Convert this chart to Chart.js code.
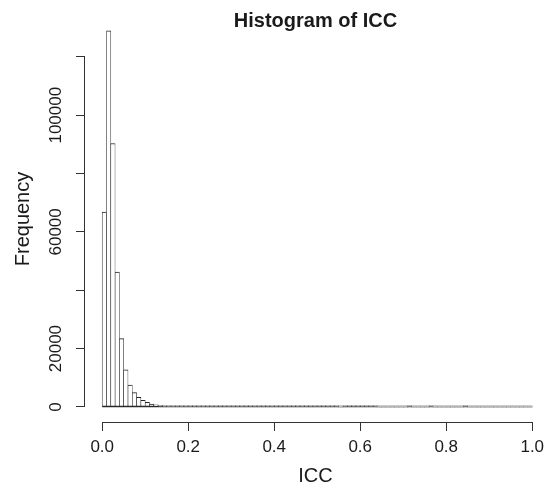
<!DOCTYPE html>
<html>
<head>
<meta charset="utf-8">
<script src="https://cdn.jsdelivr.net/npm/chart.js@4.4.1/dist/chart.umd.min.js"></script>
<style>
  html, body { margin: 0; padding: 0; background: #fff; }
</style>
</head>
<body>
<canvas id="grafica" width="546" height="483"></canvas>
<script>
// histograma de ICC, clases de ancho 0.01 entre 0 y 1
const anchoClase = 0.01;
const frecuencias = [
  66800, 128900, 90300, 46200, 23400, 12700, 7500, 4900, 3300, 2300, 1600, 1000,
  700, 520, 390, 300, 240, 200, 170, 145, 125, 110,
  98, 88, 80, 73, 67, 62, 57, 53, 49, 46, 43, 40, 38, 36, 34, 32, 30, 28,
  27, 25, 24, 23, 21, 20, 19, 18, 17, 16, 15, 14, 14, 13, 12,
  0,
  11, 10, 9, 9, 8, 7, 7, 6,
  0, 0, 0, 0, 0, 0, 0,
  3,
  0, 0, 0, 0,
  2,
  0, 0, 0, 0, 0, 0, 0,
  2,
  0, 0, 0, 0, 0, 0, 0, 0, 0, 0, 0, 0, 0, 0, 0
];
const xTicks = [0, 0.2, 0.4, 0.6, 0.8, 1.0];
const xEtiquetas = ["0.0", "0.2", "0.4", "0.6", "0.8", "1.0"];
const yTicks = [0, 20000, 40000, 60000, 80000, 100000, 120000];
const yEtiquetas = ["0", "20000", "", "60000", "", "100000", ""];

const fuente = "'Liberation Sans', Arial, Helvetica, sans-serif";
const colorTexto = "#1a1a1a";

// puntos medios de cada clase
const puntos = frecuencias.map((f, i) => ({ x: (i + 0.5) * anchoClase, y: f }));

// lineas de eje estilo R (solo entre el primer y el ultimo tick)
const ejesR = {
  id: "ejesR",
  beforeDatasetsDraw(chart) {
    // borde inferior comun de las clases (y = 0)
    const { ctx, scales } = chart;
    const x = scales.x, y = scales.y;
    ctx.save();
    ctx.strokeStyle = "#333";
    ctx.lineWidth = 1.5;
    ctx.beginPath();
    const y0 = y.getPixelForValue(0) - 0.5;
    ctx.moveTo(x.getPixelForValue(0), y0);
    ctx.lineTo(x.getPixelForValue(frecuencias.length * anchoClase), y0);
    ctx.stroke();
    ctx.restore();
  },
  afterDraw(chart) {
    const { ctx, chartArea, scales } = chart;
    const x = scales.x, y = scales.y;
    ctx.save();
    ctx.strokeStyle = "#333";
    ctx.lineWidth = 1;
    ctx.beginPath();
    const yb = Math.round(chartArea.bottom) + 0.5;
    ctx.moveTo(x.getPixelForValue(xTicks[0]), yb);
    ctx.lineTo(x.getPixelForValue(xTicks[xTicks.length - 1]), yb);
    const xl = Math.round(chartArea.left) - 0.5;
    ctx.moveTo(xl, y.getPixelForValue(yTicks[0]));
    ctx.lineTo(xl, y.getPixelForValue(yTicks[yTicks.length - 1]));
    ctx.stroke();
    ctx.restore();
  }
};

const grafica = document.getElementById("grafica").getContext("2d");
const myChart = new Chart(grafica, {
  type: "bar",
  data: {
    datasets: [{
      data: puntos,
      backgroundColor: "#ffffff",
      borderColor: (c) => (c.raw && c.raw.y === 0 ? "#999" : "#222"),
      borderWidth: { top: 1, left: 0.6, right: 0.6, bottom: 1 },
      borderSkipped: false,
      minBarLength: 1,
      barPercentage: 1,
      categoryPercentage: 1
    }]
  },
  options: {
    responsive: false,
    animation: false,
    devicePixelRatio: 1,
    layout: { padding: { left: 0, right: 0, top: 0, bottom: 0 } },
    plugins: {
      legend: { display: false },
      tooltip: { enabled: false },
      title: {
        display: true,
        text: "Histogram of ICC",
        fullSize: false,
        color: colorTexto,
        font: { family: fuente, size: 20, weight: "bold", lineHeight: 1.2 },
        padding: { top: 9, bottom: -17 }
      }
    },
    scales: {
      x: {
        type: "linear",
        offset: false,
        min: -0.04,
        max: 1.032,
        afterBuildTicks: (s) => { s.ticks = xTicks.map((v) => ({ value: v })); },
        afterFit: (s) => {
          s.height = 61;
          // como en R, la etiqueta "1.0" puede tocar el borde
          s.paddingLeft = 0;
          s.paddingRight = 0;
        },
        ticks: {
          callback: (v, i) => xEtiquetas[i],
          color: colorTexto,
          font: { family: fuente, size: 17 },
          padding: 6,
          maxRotation: 0,
          autoSkip: false
        },
        grid: { offset: false, drawOnChartArea: false, drawTicks: true, tickLength: 9, color: "#333", lineWidth: 1 },
        border: { display: false },
        title: {
          display: true,
          text: "ICC",
          color: colorTexto,
          font: { family: fuente, size: 20 },
          padding: { top: 0, bottom: -5 }
        }
      },
      y: {
        type: "linear",
        min: -5160,
        max: 134000,
        afterBuildTicks: (s) => { s.ticks = yTicks.map((v) => ({ value: v })); },
        afterFit: (s) => { s.width = 85; },
        ticks: {
          callback: (v, i) => yEtiquetas[i],
          color: colorTexto,
          font: { family: fuente, size: 17 },
          minRotation: 90,
          maxRotation: 90,
          crossAlign: "center",
          padding: -9,
          autoSkip: false
        },
        grid: { drawOnChartArea: false, drawTicks: true, tickLength: 9, color: "#333", lineWidth: 1 },
        border: { display: false },
        title: {
          display: true,
          text: "Frequency",
          color: colorTexto,
          font: { family: fuente, size: 20 },
          padding: { top: 11, bottom: 0 }
        }
      }
    }
  },
  plugins: [ejesR]
});
</script>
</body>
</html>
